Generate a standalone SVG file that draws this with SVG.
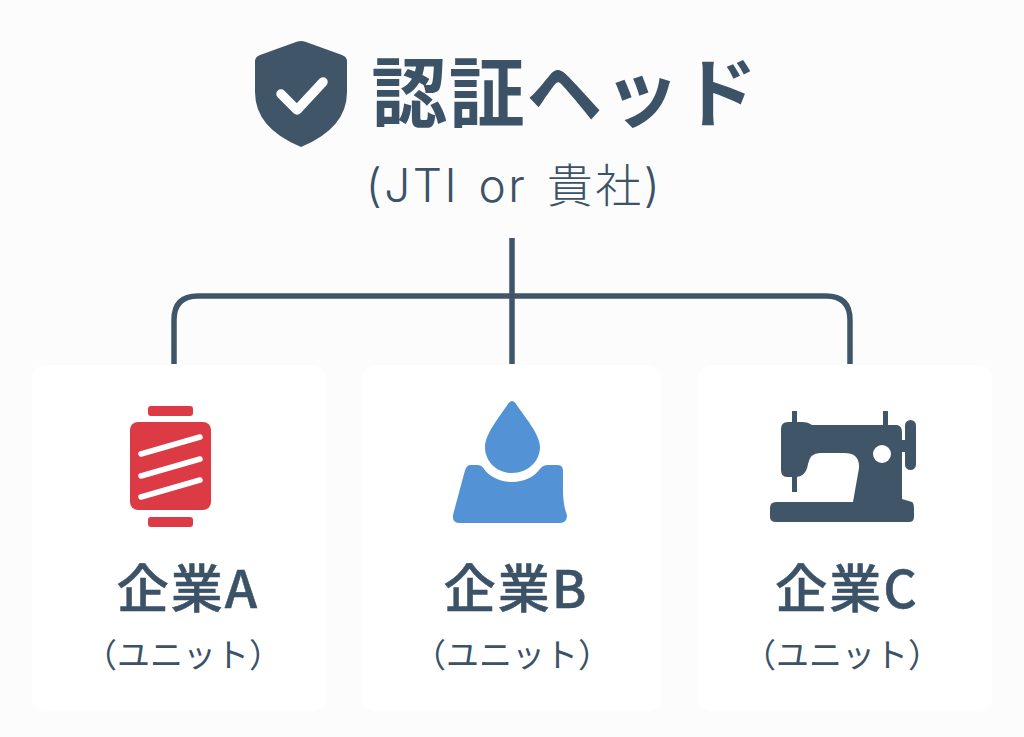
<svg xmlns="http://www.w3.org/2000/svg" width="1024" height="737" viewBox="0 0 1024 737">
<style>
text{font-family:"Noto Sans CJK JP","Noto Sans",sans-serif;fill:#3b5267;text-anchor:middle}
.title{font-size:76px;font-weight:700;letter-spacing:1.5px}
.sub{font-family:Inter,"Noto Sans CJK JP",sans-serif;font-size:46px;font-weight:300;letter-spacing:2.5px;word-spacing:4px}
.name{font-size:52px;font-weight:500;letter-spacing:2px;stroke:#3b5267;stroke-width:.5px}
.unit{font-size:33px;font-weight:400}
.card{fill:#ffffff}
.dark{fill:#405568}
.line{fill:none;stroke:#405568;stroke-width:5.5}
</style>
<rect width="1024" height="737" fill="#fcfcfc"/>
<g id="connectors">
<path class="line" d="M512 238V364"/>
<path class="line" d="M174 364V320Q174 296 198 296H826Q850 296 850 320V364"/>
</g>
<g id="head">
<path class="dark" d="M301 41Q303 41 306 42L342 55Q347 57 347 61V92Q347 128 301 147Q255 128 255 92V61Q255 57 260 55L296 42Q299 41 301 41Z"/>
<path d="M281 94L297 110L323 82" fill="none" stroke="#fff" stroke-width="9.5" stroke-linecap="round" stroke-linejoin="round"/>
<text class="title" x="565" y="121">認証ヘッド</text>
<text class="sub" x="514" y="202">(JTI or 貴社)</text>
</g>
<g id="companyA">
<rect class="card" x="32" y="365" width="294" height="346" rx="14"/>
<rect x="148" y="406" width="45" height="10" rx="3" fill="#dc3a45"/>
<rect x="148" y="517" width="45" height="10" rx="3" fill="#dc3a45"/>
<rect x="130" y="422" width="81" height="88" rx="8" fill="#dc3a45"/>
<path d="M141 454L200 437M141 476L200 459M141 497L200 480" fill="none" stroke="#fff" stroke-width="5.5" stroke-linecap="round"/>
<text class="name" x="188" y="608">企業A</text>
<text class="unit" x="183" y="667">（ユニット）</text>
</g>
<g id="companyB">
<rect class="card" x="362" y="365" width="299" height="346" rx="14"/>
<path fill="#5492d6" d="M512 401Q514 401 516 404C524 416 540 434 540 447C540 461 528 473 512 473C496 473 485 461 485 447C485 434 500 416 508 404Q510 401 512 401Z"/>
<path fill="#5492d6" d="M470 465H477Q482 465 484 469C490 477 500 482 512 482C524 482 534 477 540 469Q543 465 548 465H558Q563 465 563 471V490Q563 505 567 515Q567 523 560 523H460Q452 523 453 515L464 474Q466 465 470 465Z"/>
<text class="name" x="516" y="608">企業B</text>
<text class="unit" x="512" y="667">（ユニット）</text>
</g>
<g id="companyC">
<rect class="card" x="698" y="365" width="294" height="346" rx="14"/>
<g fill="#405568">
<rect x="792" y="411" width="5" height="14"/>
<rect x="883" y="411" width="5" height="16"/>
<rect x="792" y="470" width="5" height="22"/>
<path d="M788 422H802Q808 422 812 425H897Q902 426 902 432V499L912 502Q914 503 914 509V517Q914 522 909 522H776Q770 522 770 517V508Q770 502 776 502H853L859 468Q860 453 844 453H820Q810 453 808 464Q806 477 795 477H787Q781 477 781 470V429Q781 422 788 422Z"/>
<rect x="905" y="420" width="11" height="50" rx="5.5"/>
<rect x="900" y="440" width="8" height="12"/>
</g>
<circle cx="882" cy="454" r="9" fill="#fff"/>
<text class="name" x="847" y="608">企業C</text>
<text class="unit" x="842" y="667">（ユニット）</text>
</g>
</svg>
